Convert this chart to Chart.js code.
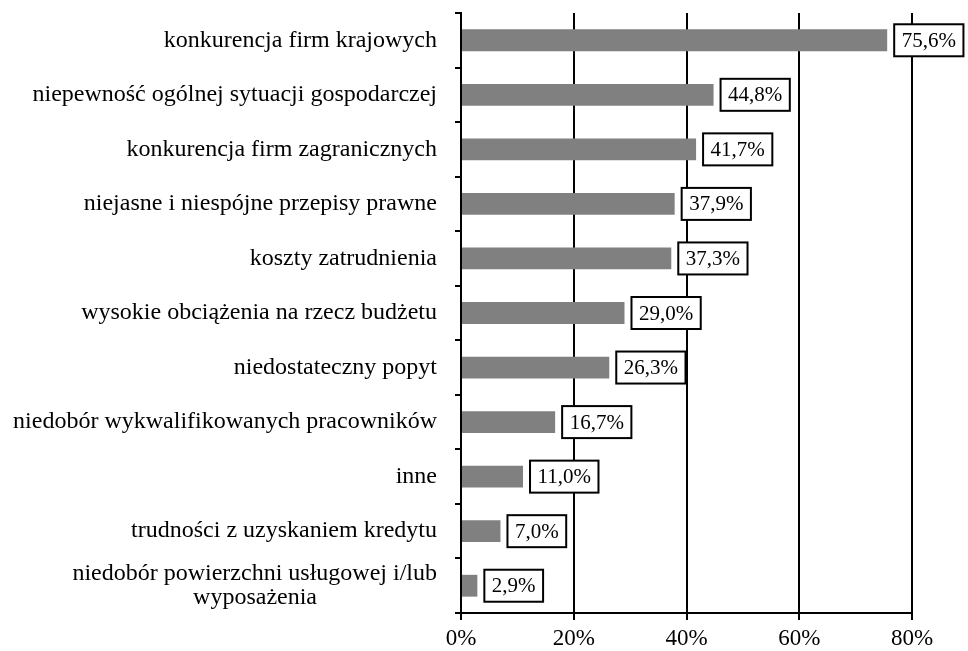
<!DOCTYPE html>
<html>
<head>
<meta charset="utf-8">
<script src="https://cdn.jsdelivr.net/npm/chart.js@4"></script>
<style>
  html, body { margin: 0; padding: 0; background: #fff; }
  #wrap { width: 968px; height: 651px; }
</style>
</head>
<body>
<div id="wrap"><canvas id="chart" width="968" height="651"></canvas></div>
<script>
// categories and values
const categories = [
    'konkurencja firm krajowych',
    'niepewność ogólnej sytuacji gospodarczej',
    'konkurencja firm zagranicznych',
    'niejasne i niespójne przepisy prawne',
    'koszty zatrudnienia',
    'wysokie obciążenia na rzecz budżetu',
    'niedostateczny popyt',
    'niedobór wykwalifikowanych pracowników',
    'inne',
    'trudności z uzyskaniem kredytu',
    ['niedobór powierzchni usługowej i/lub', 'wyposażenia                    ']
];
const shares = [75.6, 44.8, 41.7, 37.9, 37.3, 29.0, 26.3, 16.7, 11.0, 7.0, 2.9];
const xTicks = [0, 20, 40, 60, 80];

const serif = '"Liberation Serif", "Times New Roman", serif';

// boxed value labels next to each bar
const boxLabels = {
    id: 'boxLabels',
    afterDatasetsDraw(chart) {
        const ctx = chart.ctx;
        const meta = chart.getDatasetMeta(0);
        ctx.save();
        ctx.font = '21px ' + serif;
        ctx.textBaseline = 'middle';
        meta.data.forEach((bar, i) => {
            const txt = shares[i].toFixed(1).replace('.', ',') + '%';
            const w = ctx.measureText(txt).width + 15;
            const h = 32;
            const x = bar.x + 7;
            const y = bar.y - h / 2;
            ctx.fillStyle = '#fff';
            ctx.fillRect(x, y, w, h);
            ctx.lineWidth = 2;
            ctx.strokeStyle = '#000';
            ctx.strokeRect(x, y, w, h);
            ctx.fillStyle = '#000';
            ctx.fillText(txt, x + 7.5, bar.y + 1);
        });
        ctx.restore();
    }
};

new Chart(document.getElementById('chart'), {
    type: 'bar',
    data: {
        labels: categories,
        datasets: [{
            data: shares,
            backgroundColor: '#808080',
            categoryPercentage: 0.4,
            barPercentage: 1.0
        }]
    },
    options: {
        indexAxis: 'y',
        responsive: false,
        animation: false,
        layout: { padding: { top: 13, right: 56, left: 0, bottom: 0 } },
        plugins: { legend: { display: false }, tooltip: { enabled: false } },
        scales: {
            x: {
                min: 0,
                max: 80,
                afterBuildTicks: (s) => { s.ticks = xTicks.map(v => ({ value: v })); },
                afterFit: (s) => { s.height = 38; s.paddingLeft = 0; s.paddingRight = 0; },
                border: { color: '#000', width: 2 },
                grid: { color: '#000', lineWidth: 2, tickLength: 7 },
                ticks: {
                    color: '#000',
                    font: { family: serif, size: 23, lineHeight: 1.0 },
                    padding: 7,
                    callback: v => v + '%'
                }
            },
            y: {
                afterFit: (s) => { s.width = 461; s.paddingTop = 0; s.paddingBottom = 0; },
                border: { color: '#000', width: 2 },
                grid: { offset: true, drawOnChartArea: false, color: '#000', lineWidth: 2, tickLength: 6 },
                ticks: {
                    color: '#000',
                    font: { family: serif, size: 24, lineHeight: 1.0 },
                    padding: 18
                }
            }
        }
    },
    plugins: [boxLabels]
});
</script>
</body>
</html>
